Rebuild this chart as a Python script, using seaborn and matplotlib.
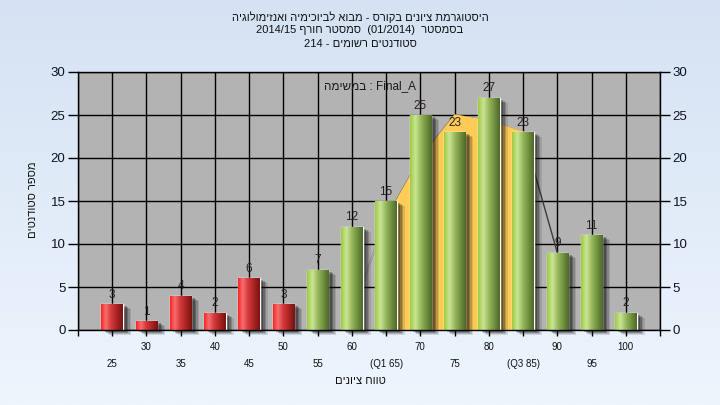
import re
import numpy as np
import pandas as pd
import matplotlib
matplotlib.use("Agg")
import matplotlib.pyplot as plt
import matplotlib.transforms as mtransforms
from matplotlib.colors import LinearSegmentedColormap
from matplotlib.patches import Rectangle
import seaborn as sns

# ---------------- data ----------------
grades = [25, 30, 35, 40, 45, 50, 55, 60, 65, 70, 75, 80, 85, 90, 95, 100]
counts = [3, 1, 4, 2, 6, 3, 7, 12, 15, 25, 23, 27, 23, 9, 11, 2]
tick_labels = ["25", "30", "35", "40", "45", "50", "55", "60", "(Q1 65)",
               "70", "75", "80", "(Q3 85)", "90", "95", "100"]
fail_below = 55
trend_grades = [60, 65, 70, 75, 80, 85, 90]
trend_values = [2, 13, 20, 25, 24.3, 23, 9]
q1_grade, q3_grade = 65, 85

title_lines = ["היסטוגרמת ציונים בקורס - מבוא לביוכימיה ואנזימולוגיה",
               "בסמסטר  (01/2014)  סמסטר חורף 2014/15",
               "סטודנטים רשומים - 214"]
task_text = "Final_A : במשימה"
x_title = "טווח ציונים"
y_title = "מספר סטודנטים"


def visual(s):
    """Very small bidi: RTL paragraph -> visual order for LTR renderer."""
    if not re.search(r"[\u0590-\u05FF]", s):
        return s
    r = s[::-1]
    r = re.sub(r"[A-Za-z0-9_/.]+(?:[ ]?[A-Za-z0-9_/.]+)*", lambda m: m.group(0)[::-1], r)
    trans = {"(": ")", ")": "("}
    return "".join(trans.get(c, c) for c in r)


sns.set_theme(style="white")
plt.rcParams["font.family"] = ["Liberation Sans", "DejaVu Sans"]

fig = plt.figure(figsize=(7.2, 4.05), dpi=100)

# figure background gradient
bg = fig.add_axes([0, 0, 1, 1], zorder=-10)
grad = np.linspace(0, 1, 256).reshape(-1, 1)
bg_cmap = LinearSegmentedColormap.from_list("bg", ["#d4e2f3", "#eef5fd"])
bg.imshow(grad, aspect="auto", cmap=bg_cmap, extent=[0, 1, 0, 1])
bg.set_axis_off()

ax = fig.add_axes([78 / 720, 75 / 405, 582 / 720, 258 / 405])
ax.set_facecolor("#b3b3b3")

df = pd.DataFrame({"grade": [str(g) for g in grades], "count": counts})
base_colors = ["#e02020" if g < fail_below else "#8fb848" for g in grades]
sns.barplot(data=df, x="grade", y="count", hue="grade", palette=base_colors,
            legend=False, width=0.63, ax=ax, zorder=5, saturation=1)

ax.set_xlim(-1, len(grades))
ax.set_ylim(0, 30)

# trend line and Q1-Q3 fill
pos = {g: i for i, g in enumerate(grades)}
tx = [pos[g] for g in trend_grades]
ax.plot(tx, trend_values, color="#3a3a3a", lw=1.0, zorder=2)
# the part left of Q1 is faint in the reference
lx = [x for x, g in zip(tx, trend_grades) if g <= q1_grade]
ly = [y for y, g in zip(trend_values, trend_grades) if g <= q1_grade]
ax.plot(lx, ly, color="#a8a8a8", lw=1.2, zorder=2.1)
mask = [(q1_grade <= g <= q3_grade) for g in trend_grades]
fx = [x for x, m in zip(tx, mask) if m]
fy = [y for y, m in zip(trend_values, mask) if m]
ax.fill_between(fx, 0, fy, color="#ffcb57", edgecolor="#ffcb57", lw=1.6, zorder=3)

# gradients + shadows on bars
red_cmap = LinearSegmentedColormap.from_list(
    "r", [(0, "#ff2020"), (0.22, "#f47070"), (0.45, "#d83a3a"), (1, "#7a1010")])
green_cmap = LinearSegmentedColormap.from_list(
    "g", [(0, "#9ccb3e"), (0.25, "#cbe598"), (0.5, "#96b75a"), (1, "#4c6a26")])
hgrad = np.linspace(0, 1, 128).reshape(1, -1)
for patch, g in zip(ax.patches, grades):
    x0, y0 = patch.get_x(), patch.get_y()
    w, h = patch.get_width(), patch.get_height()
    for dx, dy, a in [(8, -5, 0.12), (6.5, -4, 0.18), (5, -3, 0.25), (3.5, -2, 0.3)]:
        off = mtransforms.offset_copy(ax.transData, fig=fig, x=dx, y=dy, units="dots")
        sh = Rectangle((x0, y0), w, h, transform=off, facecolor="#101010",
                       edgecolor="none", alpha=a, zorder=4, clip_on=False)
        ax.add_patch(sh)
    cmap = red_cmap if g < fail_below else green_cmap
    im = ax.imshow(hgrad, aspect="auto", cmap=cmap, extent=[x0, x0 + w, y0, y0 + h],
                   zorder=6, interpolation="bicubic")
    im.set_clip_path(patch)
ax.set_xlim(-1, len(grades))
ax.set_ylim(0, 30)

# bar labels
for cont in ax.containers:
    ax.bar_label(cont, padding=2.5, fontsize=8.5, color="#2a2020", zorder=8)

# grid / ticks
ax.set_yticks(range(0, 31, 5))
major = [i for i in range(len(grades)) if i % 2 == 1]
minor = [i for i in range(len(grades)) if i % 2 == 0]
ax.set_xticks(major)
ax.set_xticklabels([tick_labels[i] for i in major])
ax.set_xticks(minor + [-1, len(grades)], minor=True)
ax.set_xticklabels([tick_labels[i] for i in minor] + ["", ""], minor=True)
ax.grid(True, which="both", color="black", lw=1.0, zorder=1)
ax.set_axisbelow(True)
ax.tick_params(axis="x", which="major", direction="out", length=4, width=1,
               color="black", pad=5, labelsize=7, labelcolor="#111111", bottom=True)
ax.tick_params(axis="x", which="minor", direction="out", length=4, width=1,
               color="black", pad=17, labelsize=7, labelcolor="#111111", bottom=True)
ax.tick_params(axis="y", direction="out", length=7, width=1, color="black",
               labelsize=9.5, labelcolor="#111122", left=True, right=True,
               labelleft=True, labelright=True, pad=2)
for s in ax.spines.values():
    s.set_color("black")
    s.set_linewidth(1)
    s.set_visible(True)
    s.set_zorder(7)
ax.set_xlabel("")
ax.set_ylabel("")

ax.text(0.502, 0.946, visual(task_text), transform=ax.transAxes, ha="center",
        va="center", fontsize=8.5, color="#1a1a1a", zorder=9)

# titles
for yy, line in zip([17, 30, 44], title_lines):
    fig.text(0.5, 1 - yy / 405, visual(line), ha="center", va="center",
             fontsize=8, color="#111111")
fig.text(360 / 720, 1 - 381 / 405, visual(x_title), ha="center", va="center",
         fontsize=8, color="#111111")
fig.text(33 / 720, 1 - 200 / 405, visual(y_title), ha="center", va="center",
         rotation=90, fontsize=8, color="#111111")

fig.savefig("out.png", dpi=100)
